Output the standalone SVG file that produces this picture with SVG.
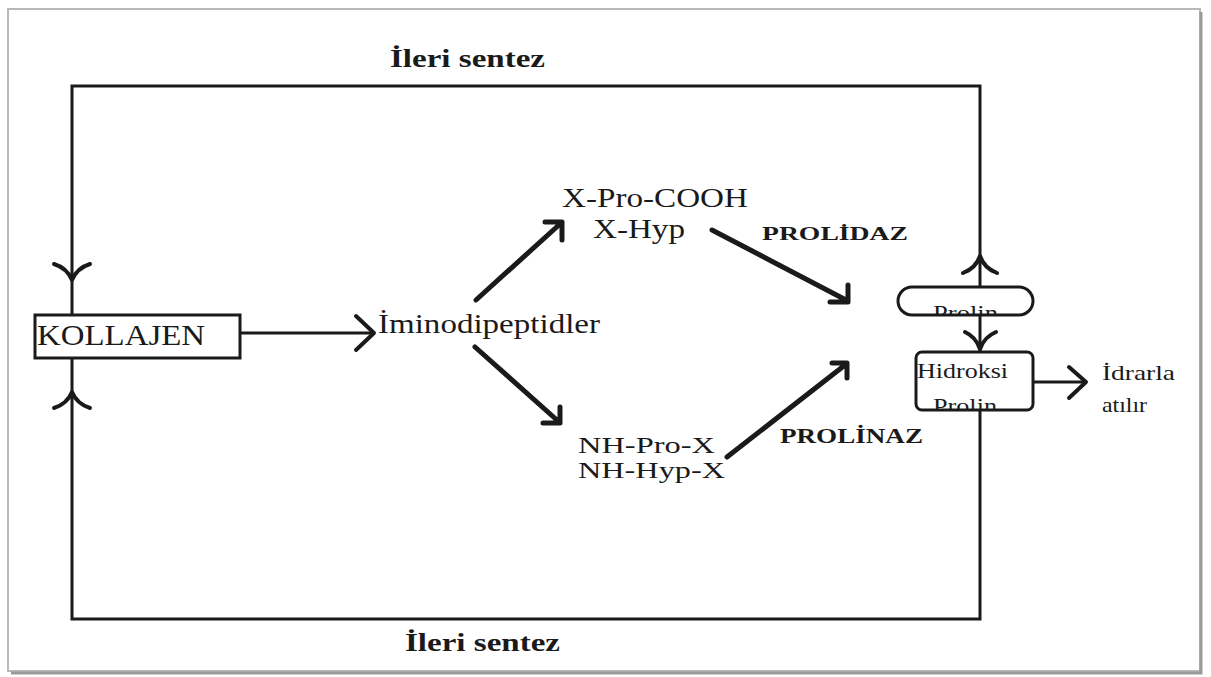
<svg xmlns="http://www.w3.org/2000/svg" width="1211" height="677" viewBox="0 0 1211 677">
<style>
.t{font-family:"Liberation Serif","Times New Roman",serif;fill:#1a1a1a}
.b{font-weight:bold}
.ln{stroke:#1a1a1a;stroke-width:3;fill:none}
.ar{stroke:#1a1a1a;stroke-width:5;fill:none;stroke-linecap:round;stroke-linejoin:round}
.ch{stroke:#1a1a1a;stroke-width:4;fill:none;stroke-linecap:round;stroke-linejoin:round}
.box{fill:#fff;stroke:#1a1a1a;stroke-width:3}
</style>
<defs>
<clipPath id="cpP"><rect x="898" y="287" width="135" height="28" rx="14"/></clipPath>
<clipPath id="cpH"><rect x="916" y="352" width="117" height="58" rx="6"/></clipPath>
</defs>
<rect x="0" y="0" width="1211" height="677" fill="#fff"/>
<rect x="8" y="9" width="1192" height="662" fill="#fff" stroke="#b8b8b8" stroke-width="2"/>
<path d="M1201 12 V673 H11" stroke="#9a9a9a" stroke-width="3" fill="none"/>
<g id="connectors">
<path class="ln" d="M72 315 V86 H980 V287"/>
<path class="ln" d="M72 358 V619 H980 V410"/>
<path class="ln" d="M980 315 V352"/>
<path class="ch" d="M54 264 Q67 268 72 280 Q77 268 90 264"/>
<path class="ch" d="M54 408 Q67 404 72 392 Q77 404 90 408"/>
<path class="ch" d="M963 273 Q976 268 980 256 Q984 268 997 273"/>
<path class="ch" d="M965 332 Q976 337 980 349 Q984 337 996 332"/>
<path class="ln" d="M240 333 H372"/>
<path class="ch" d="M356 316 L374 333 L356 350"/>
<path class="ln" d="M1033 382 H1084"/>
<path class="ch" d="M1069 367 L1086 382 L1069 398"/>
<path class="ar" d="M476 300 L560 224 M545 222 H562 V240"/>
<path class="ar" d="M475 347 L558 421 M543 423 H560 V407"/>
<path class="ar" d="M712 230 L846 300 M848 285 V302 H830"/>
<path class="ar" d="M727 457 L845 365 M832 363 H847 V378"/>
</g>
<g id="kollajen">
<rect class="box" x="35" y="315" width="205" height="43"/>
<text class="t" x="37" y="345" font-size="30" textLength="168" lengthAdjust="spacingAndGlyphs">KOLLAJEN</text>
</g>
<g id="iminodipeptidler">
<text class="t" x="378" y="333" font-size="28" textLength="222" lengthAdjust="spacingAndGlyphs">İminodipeptidler</text>
</g>
<g id="xpro">
<text class="t" x="562" y="207" font-size="27" textLength="186" lengthAdjust="spacingAndGlyphs">X-Pro-COOH</text>
<text class="t" x="593" y="238" font-size="27" textLength="92" lengthAdjust="spacingAndGlyphs">X-Hyp</text>
</g>
<g id="nhpro">
<text class="t" x="578" y="453" font-size="24" textLength="137" lengthAdjust="spacingAndGlyphs">NH-Pro-X</text>
<text class="t" x="578" y="478" font-size="24" textLength="147" lengthAdjust="spacingAndGlyphs">NH-Hyp-X</text>
</g>
<g id="prolidaz"><text class="t b" x="762" y="240" font-size="19" textLength="146" lengthAdjust="spacingAndGlyphs">PROLİDAZ</text></g>
<g id="prolinaz"><text class="t b" x="780" y="443" font-size="20" textLength="143" lengthAdjust="spacingAndGlyphs">PROLİNAZ</text></g>
<g id="prolin">
<rect class="box" x="898" y="287" width="135" height="28" rx="14"/>
<text class="t" x="933" y="320" font-size="20" textLength="65" lengthAdjust="spacingAndGlyphs" clip-path="url(#cpP)">Prolin</text>
</g>
<g id="hidroksiprolin">
<rect class="box" x="916" y="352" width="117" height="58" rx="6"/>
<text class="t" x="917" y="378" font-size="20" textLength="91" lengthAdjust="spacingAndGlyphs">Hidroksi</text>
<text class="t" x="933" y="413" font-size="20" textLength="64" lengthAdjust="spacingAndGlyphs" clip-path="url(#cpH)">Prolin</text>
</g>
<g id="idrarla">
<text class="t" x="1102" y="380" font-size="22" textLength="73" lengthAdjust="spacingAndGlyphs">İdrarla</text>
<text class="t" x="1102" y="412" font-size="22" textLength="45" lengthAdjust="spacingAndGlyphs">atılır</text>
</g>
<g id="labels">
<text class="t b" x="390" y="67" font-size="26" textLength="155" lengthAdjust="spacingAndGlyphs">İleri sentez</text>
<text class="t b" x="405" y="651" font-size="26" textLength="155" lengthAdjust="spacingAndGlyphs">İleri sentez</text>
</g>
</svg>
